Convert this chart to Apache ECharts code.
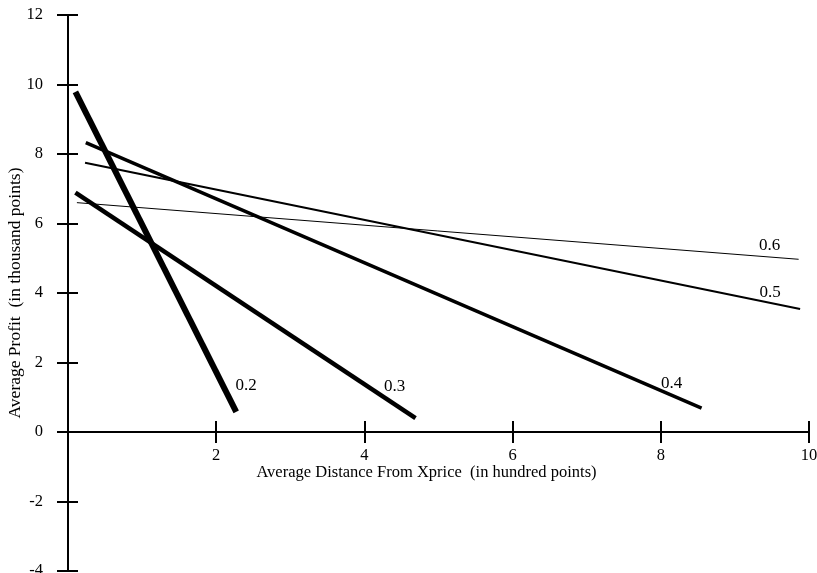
<!DOCTYPE html>
<html>
<head>
<meta charset="utf-8">
<script src="https://cdn.jsdelivr.net/npm/echarts@6/dist/echarts.min.js"></script>
<style>
  html, body { margin: 0; padding: 0; background: #fff; }
  #chart { width: 817px; height: 573px; }
</style>
</head>
<body>
<div id="chart"></div>
<script>
// Profit vs. distance lines, one per parameter value
const lineNames = ['0.2', '0.3', '0.4', '0.5', '0.6'];
const line02 = [[0.10, 9.79], [2.27, 0.58]];
const line03 = [[0.10, 6.89], [4.69, 0.40]];
const line04 = [[0.24, 8.33], [8.55, 0.69]];
const line05 = [[0.23, 7.75], [9.88, 3.54]];
const line06 = [[0.12, 6.60], [9.86, 4.97]];
const xTicks = [2, 4, 6, 8, 10];
const yTicks = [-4, -2, 0, 2, 4, 6, 8, 10, 12];

const FONT = '"Liberation Serif", "Times New Roman", serif';
const lineData = [line02, line03, line04, line05, line06];
const widths = [6, 4.5, 3.5, 2, 1];
const labelOffsets = [[10, -26], [-21, -32], [-30, -24], [-30, -16], [-29, -14]];

const axisLineStyle = { color: '#000', width: 2 };

const chart = echarts.init(document.getElementById('chart'), null, { renderer: 'canvas' });

chart.setOption({
  backgroundColor: '#fff',
  animation: false,
  grid: [
    // full-height frame carrying the vertical axis (-4 .. 12)
    { left: 68, right: 8, top: 15, bottom: 2, containLabel: false, outerBoundsMode: 'none' },
    // plotting area above the zero line (0 .. 12), horizontal axis at its bottom
    { left: 68, right: 8, top: 15, bottom: 141, containLabel: false, outerBoundsMode: 'none' }
  ],
  xAxis: [
    { gridIndex: 0, type: 'value', min: 0, max: 10, show: false },
    {
      gridIndex: 1, type: 'value', min: 0, max: 10, interval: 2, position: 'bottom',
      axisLine: { show: true, onZero: false, lineStyle: axisLineStyle },
      axisTick: { show: true, inside: false, length: 11, lineStyle: axisLineStyle },
      axisLabel: {
        show: true, margin: 15, color: '#000', fontFamily: FONT, fontSize: 16.5,
        formatter: v => (xTicks.indexOf(v) >= 0 ? String(v) : '')
      },
      splitLine: { show: false },
      name: 'Average Distance From Xprice  (in hundred points)',
      nameLocation: 'middle', nameGap: 32, nameMoveOverlap: false,
      nameTextStyle: { color: '#000', fontFamily: FONT, fontSize: 16.5, padding: [0, 24, 0, 0] }
    },
    {
      gridIndex: 1, type: 'value', min: 0, max: 10, interval: 2, position: 'bottom',
      axisLine: { show: true, onZero: false, lineStyle: axisLineStyle },
      axisTick: { show: true, inside: true, length: 11, lineStyle: axisLineStyle },
      axisLabel: { show: false },
      splitLine: { show: false }
    }
  ],
  yAxis: [
    {
      gridIndex: 0, type: 'value', min: -4, max: 12, interval: 2, position: 'left',
      axisLine: { show: true, onZero: false, lineStyle: axisLineStyle },
      axisTick: { show: true, inside: false, length: 11, lineStyle: axisLineStyle },
      axisLabel: {
        show: true, margin: 25, color: '#000', fontFamily: FONT, fontSize: 16.5,
        formatter: v => (yTicks.indexOf(v) >= 0 ? String(v) : '')
      },
      splitLine: { show: false },
      name: 'Average Profit  (in thousand points)',
      nameLocation: 'middle', nameGap: 44, nameRotate: 90, nameMoveOverlap: false,
      nameTextStyle: { color: '#000', fontFamily: FONT, fontSize: 17.5 }
    },
    {
      gridIndex: 0, type: 'value', min: -4, max: 12, interval: 2, position: 'left',
      axisLine: { show: true, onZero: false, lineStyle: axisLineStyle },
      axisTick: { show: true, inside: true, length: 10, lineStyle: axisLineStyle },
      axisLabel: { show: false },
      splitLine: { show: false }
    },
    { gridIndex: 1, type: 'value', min: 0, max: 12, show: false }
  ],
  series: lineNames.map((name, i) => ({
    type: 'line',
    name: name,
    xAxisIndex: 1,
    yAxisIndex: 2,
    data: lineData[i],
    symbol: 'none',
    lineStyle: { color: '#000', width: widths[i], cap: 'butt' },
    endLabel: {
      show: true,
      formatter: name,
      distance: 0,
      offset: labelOffsets[i],
      align: 'center',
      verticalAlign: 'middle',
      color: '#000',
      fontFamily: FONT,
      fontSize: 17
    }
  }))
});
</script>
</body>
</html>
